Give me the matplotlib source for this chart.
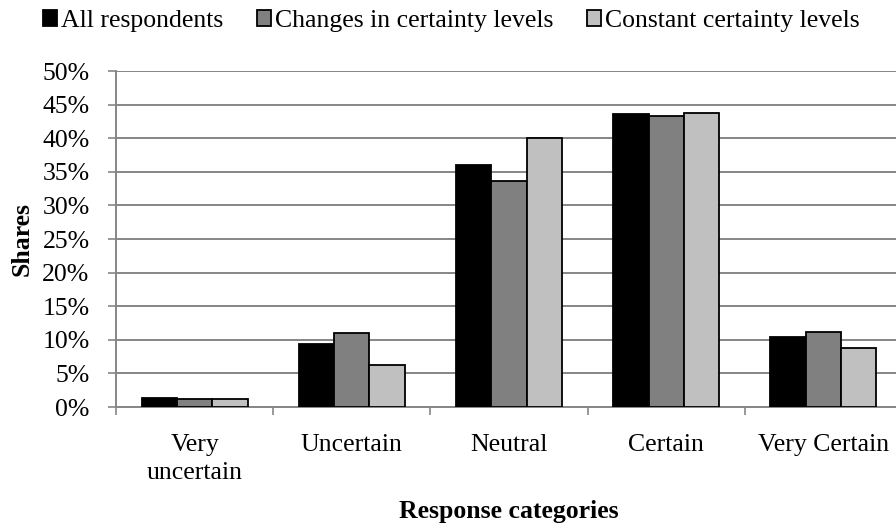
import matplotlib.pyplot as plt
import numpy as np
from matplotlib.ticker import PercentFormatter

categories = ["Very\nuncertain", "Uncertain", "Neutral", "Certain", "Very Certain"]
series_names = ["All respondents", "Changes in certainty levels", "Constant certainty levels"]
all_resp = [1.3, 9.4, 36.0, 43.6, 10.4]
changes = [1.2, 11.0, 33.6, 43.3, 11.2]
constant = [1.2, 6.3, 40.1, 43.8, 8.8]
colors = ["#000000", "#808080", "#c0c0c0"]

plt.rcParams["font.family"] = ["Liberation Serif", "DejaVu Serif"]
fs = 18.5

fig = plt.figure(figsize=(8.96, 5.25), dpi=100)
# plot area runs past the right edge like the original
ax = fig.add_axes([116 / 896, 1 - 407 / 525, 786 / 896, 336 / 525])

x = np.arange(len(categories))
w = 0.225
for i, (vals, name) in enumerate(zip([all_resp, changes, constant], series_names)):
    ax.bar(x + (i - 1) * w, vals, width=w, color=colors[i], edgecolor="black",
           linewidth=1.3, label=name, zorder=3)

ax.set_xlim(-0.5, 4.5)
ax.set_ylim(0, 50)
ax.set_yticks(np.arange(0, 51, 5))
ax.yaxis.set_major_formatter(PercentFormatter(decimals=0))
ax.set_xticks(x)
ax.set_xticklabels(categories, linespacing=1.32)
ax.set_xticks(np.arange(-0.5, 4.6, 1), minor=True)
ax.tick_params(axis="x", which="major", length=0, pad=19.5, labelsize=fs)
ax.tick_params(axis="x", which="minor", length=6, color="#868686", width=1.2)
ax.tick_params(axis="y", length=6, color="#868686", width=1.2, labelsize=fs, pad=13)

ax.grid(axis="y", color="#868686", linewidth=1.4, zorder=0)
for s in ["top", "right"]:
    ax.spines[s].set_visible(False)
for s in ["left", "bottom"]:
    ax.spines[s].set_color("#868686")
    ax.spines[s].set_linewidth(1.4)

ax.set_ylabel("Shares", fontsize=fs, fontweight="bold", labelpad=6)
ax.set_xlabel("Response categories", fontsize=fs, fontweight="bold", labelpad=12)

fig.legend(loc="upper left", bbox_to_anchor=(33 / 896, 1.0), ncol=3, frameon=False,
           fontsize=fs, handlelength=0.55, handleheight=0.55, handletextpad=0.15,
           columnspacing=1.3, borderaxespad=0.0)

plt.savefig("out.png", dpi=100)
